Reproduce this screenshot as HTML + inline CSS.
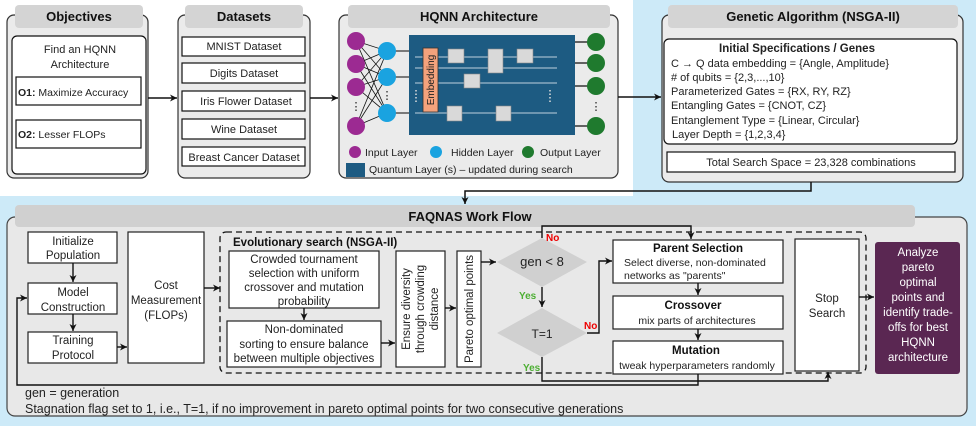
<!DOCTYPE html>
<html><head><meta charset="utf-8"><style>
html,body{margin:0;padding:0;background:#fff}
svg{display:block;font-family:"Liberation Sans",sans-serif}
</style></head><body>
<svg width="976" height="426" viewBox="0 0 976 426" xmlns="http://www.w3.org/2000/svg">
<defs>
<marker id="a" markerWidth="8" markerHeight="8" refX="7" refY="4" orient="auto" markerUnits="userSpaceOnUse"><path d="M0,0.5 L7,4 L0,7.5 L2,4 z" fill="#111"/></marker>
</defs>
<rect x="633" y="0" width="343" height="197" fill="#cdeaf8"/>
<rect x="0" y="196" width="976" height="230" fill="#cdeaf8"/>

<g stroke="#333" stroke-width="1.2">
<rect x="7" y="15" width="141" height="163" rx="7" fill="#ebebeb"/>
<rect x="15" y="5" width="128" height="23" rx="4" fill="#d4d4d4" stroke="none"/>
<rect x="12" y="36" width="134" height="138" rx="5" fill="#fff" stroke="#111"/>
<rect x="16" y="77" width="125" height="28" fill="#fff" stroke="#111"/>
<rect x="16" y="120" width="125" height="28" fill="#fff" stroke="#111"/>
<rect x="178" y="15" width="132" height="163" rx="7" fill="#ebebeb"/>
<rect x="185" y="5" width="118" height="23" rx="4" fill="#d4d4d4" stroke="none"/>
<rect x="182" y="37" width="123" height="19" fill="#fff" stroke="#111"/>
<rect x="182" y="63" width="123" height="20" fill="#fff" stroke="#111"/>
<rect x="182" y="91" width="123" height="20" fill="#fff" stroke="#111"/>
<rect x="182" y="119" width="123" height="20" fill="#fff" stroke="#111"/>
<rect x="182" y="147" width="123" height="19" fill="#fff" stroke="#111"/>
<rect x="339" y="15" width="279" height="163" rx="7" fill="#ebebeb"/>
<rect x="348" y="5" width="262" height="23" rx="4" fill="#d4d4d4" stroke="none"/>
<rect x="662" y="15" width="301" height="167" rx="7" fill="#ebebeb"/>
<rect x="668" y="5" width="290" height="23" rx="4" fill="#d4d4d4" stroke="none"/>
<rect x="664" y="39" width="293" height="105" rx="5" fill="#fff" stroke="#111"/>
<rect x="667" y="152" width="288" height="20" fill="#fff" stroke="#111"/>
</g>

<g stroke="#111" stroke-width="1.5" fill="none">
<line x1="148" y1="98" x2="177" y2="98" marker-end="url(#a)"/>
<line x1="310" y1="98" x2="338" y2="98" marker-end="url(#a)"/>
<line x1="618" y1="97" x2="661" y2="97" marker-end="url(#a)"/>
<polyline points="811,182 811,191 465,191 465,204" marker-end="url(#a)"/>
</g>

<rect x="409" y="35" width="166" height="100" fill="#1d5b82"/>
<g stroke="#111" stroke-width="0.8">
<line x1="356" y1="41" x2="387" y2="51"/><line x1="356" y1="41" x2="387" y2="77"/><line x1="356" y1="41" x2="387" y2="113"/>
<line x1="356" y1="64" x2="387" y2="51"/><line x1="356" y1="64" x2="387" y2="77"/><line x1="356" y1="64" x2="387" y2="113"/>
<line x1="356" y1="87" x2="387" y2="51"/><line x1="356" y1="87" x2="387" y2="77"/><line x1="356" y1="87" x2="387" y2="113"/>
<line x1="356" y1="126" x2="387" y2="51"/><line x1="356" y1="126" x2="387" y2="77"/><line x1="356" y1="126" x2="387" y2="113"/>
<line x1="387" y1="51" x2="409" y2="51" stroke="#555" stroke-width="1.5"/>
<line x1="387" y1="77" x2="409" y2="77" stroke="#555" stroke-width="1.5"/>
<line x1="387" y1="113" x2="409" y2="113" stroke="#555" stroke-width="1.5"/>
<line x1="575" y1="42" x2="596" y2="42" stroke-width="1.2"/>
<line x1="575" y1="63" x2="596" y2="63" stroke-width="1.2"/>
<line x1="575" y1="86" x2="596" y2="86" stroke-width="1.2"/>
<line x1="575" y1="126" x2="596" y2="126" stroke-width="1.2"/>
</g>
<g stroke="#9fb9cc" stroke-width="1.3">
<line x1="415" y1="57" x2="557" y2="57"/><line x1="415" y1="68" x2="557" y2="68"/>
<line x1="415" y1="83" x2="557" y2="83"/><line x1="415" y1="113" x2="557" y2="113"/>
</g>
<rect x="423" y="48" width="15" height="64" fill="#f4a27c" stroke="#333" stroke-width="0.8"/>
<text transform="translate(434,80) rotate(-90)" font-size="10" text-anchor="middle" fill="#222">Embedding</text>
<g fill="#d9d9d9" stroke="#888" stroke-width="0.6">
<rect x="448" y="49" width="16" height="14"/><rect x="488" y="49" width="15" height="24"/>
<rect x="517" y="49" width="16" height="14"/><rect x="464" y="74" width="16" height="14"/>
<rect x="447" y="106" width="15" height="15"/><rect x="496" y="106" width="15" height="15"/>
</g>
<g stroke="#ddd" stroke-width="1.5" stroke-dasharray="1.5,2"><line x1="416" y1="90" x2="416" y2="104"/><line x1="550" y1="90" x2="550" y2="104"/></g>
<g fill="#9c2a92"><circle cx="356" cy="41" r="9"/><circle cx="356" cy="64" r="9"/><circle cx="356" cy="87" r="9"/><circle cx="356" cy="126" r="9"/></g>
<g fill="#1aa3e0"><circle cx="387" cy="51" r="9"/><circle cx="387" cy="77" r="9"/><circle cx="387" cy="113" r="9"/></g>
<g fill="#1f7a2e"><circle cx="596" cy="42" r="9"/><circle cx="596" cy="63" r="9"/><circle cx="596" cy="86" r="9"/><circle cx="596" cy="126" r="9"/></g>
<g font-size="11" fill="#111" text-anchor="middle"><text x="356" y="110">⋮</text><text x="387" y="99">⋮</text><text x="596" y="110">⋮</text></g>
<circle cx="355" cy="152" r="6" fill="#9c2a92"/><circle cx="436" cy="152" r="6" fill="#1aa3e0"/><circle cx="528" cy="152" r="6" fill="#1f7a2e"/>
<rect x="346" y="163" width="19" height="14" fill="#1d5b82"/>
<g font-size="10.5" fill="#222">
<text x="365" y="156">Input Layer</text><text x="451" y="156">Hidden Layer</text><text x="540" y="156">Output Layer</text>
<text x="369" y="173">Quantum Layer (s) – updated during search</text>
</g>

<g font-size="13" font-weight="bold" fill="#111" text-anchor="middle">
<text x="79" y="21">Objectives</text><text x="244" y="21">Datasets</text>
<text x="479" y="21">HQNN Architecture</text><text x="813" y="21">Genetic Algorithm (NSGA-II)</text>
</g>
<g font-size="11" fill="#222" text-anchor="middle">
<text x="80" y="53">Find an HQNN</text><text x="80" y="68">Architecture</text>
<text x="244" y="50">MNIST Dataset</text><text x="244" y="77">Digits Dataset</text>
<text x="246" y="105">Iris Flower Dataset</text><text x="244" y="133">Wine Dataset</text>
<text x="244" y="161">Breast Cancer Dataset</text>
<text x="811" y="166">Total Search Space = 23,328 combinations</text>
</g>
<g font-size="10.5" fill="#222">
<text x="18" y="96"><tspan font-weight="bold">O1:</tspan>   Maximize Accuracy</text>
<text x="18" y="138"><tspan font-weight="bold">O2:</tspan>  Lesser FLOPs</text>
</g>
<text x="797" y="52" font-size="11.5" font-weight="bold" text-anchor="middle" fill="#222">Initial Specifications / Genes</text>
<g font-size="11" fill="#222">
<text x="671" y="67">C → Q data embedding = {Angle, Amplitude}</text>
<text x="671" y="81">#  of qubits = {2,3,...,10}</text>
<text x="671" y="95">Parameterized Gates = {RX, RY, RZ}</text>
<text x="671" y="109">Entangling Gates = {CNOT, CZ}</text>
<text x="671" y="124">Entanglement Type = {Linear, Circular}</text>
<text x="672" y="138">Layer Depth = {1,2,3,4}</text>
</g>

<rect x="7" y="217" width="960" height="199" rx="8" fill="#e8e8e8" stroke="#444" stroke-width="1.2"/>
<rect x="15" y="205" width="900" height="22" rx="4" fill="#d0d0d0"/>
<text x="470" y="221" font-size="13" font-weight="bold" text-anchor="middle" fill="#111">FAQNAS Work Flow</text>
<rect x="220" y="232" width="646" height="141" rx="6" fill="none" stroke="#111" stroke-width="1.3" stroke-dasharray="6,4"/>

<g fill="#fff" stroke="#222" stroke-width="1.2">
<rect x="28" y="232" width="89" height="31"/><rect x="28" y="283" width="89" height="31"/>
<rect x="28" y="332" width="89" height="31"/><rect x="128" y="232" width="76" height="131"/>
<rect x="229" y="251" width="150" height="57"/><rect x="227" y="321" width="154" height="46"/>
<rect x="396" y="251" width="49" height="116"/><rect x="457" y="251" width="24" height="116"/>
<rect x="613" y="240" width="170" height="43"/><rect x="613" y="296" width="170" height="33"/>
<rect x="613" y="341" width="170" height="33"/><rect x="795" y="239" width="64" height="132"/>
</g>
<rect x="875" y="242" width="85" height="132" rx="3" fill="#5a2752"/>
<polygon points="497,262 542,238 587,262 542,287" fill="#d0d0d0"/>
<polygon points="497,333 542,308 587,333 542,357" fill="#d0d0d0"/>

<g stroke="#111" stroke-width="1.4" fill="none">
<line x1="73" y1="263" x2="73" y2="282" marker-end="url(#a)"/>
<line x1="73" y1="314" x2="73" y2="331" marker-end="url(#a)"/>
<line x1="117" y1="347" x2="127" y2="347" marker-end="url(#a)"/>
<line x1="204" y1="288" x2="220" y2="288" marker-end="url(#a)"/>
<line x1="304" y1="308" x2="304" y2="320" marker-end="url(#a)"/>
<line x1="381" y1="343" x2="395" y2="343" marker-end="url(#a)"/>
<line x1="445" y1="308" x2="456" y2="308" marker-end="url(#a)"/>
<line x1="481" y1="262" x2="496" y2="262" marker-end="url(#a)"/>
<polyline points="542,238 542,226 691,226 691,239" marker-end="url(#a)"/>
<line x1="542" y1="287" x2="542" y2="307" marker-end="url(#a)"/>
<polyline points="587,333 599,333 599,261 612,261" marker-end="url(#a)"/>
<line x1="698" y1="283" x2="698" y2="295" marker-end="url(#a)"/>
<line x1="698" y1="329" x2="698" y2="340" marker-end="url(#a)"/>
<polyline points="542,357 542,381 828,381 828,372" marker-end="url(#a)"/>
<polyline points="698,374 698,385 17,385 17,298 27,298" marker-end="url(#a)"/>
<line x1="859" y1="297" x2="874" y2="297" marker-end="url(#a)"/>
</g>

<g font-size="11.5" fill="#222" text-anchor="middle">
<text x="73" y="245">Initialize</text><text x="73" y="259">Population</text>
<text x="73" y="296">Model</text><text x="73" y="311">Construction</text>
<text x="73" y="344">Training</text><text x="73" y="359">Protocol</text>
<text x="166" y="289">Cost</text><text x="166" y="304">Measurement</text><text x="166" y="319">(FLOPs)</text>
<text x="304" y="263">Crowded tournament</text><text x="304" y="277">selection with uniform</text>
<text x="304" y="291">crossover and mutation</text><text x="304" y="305">probability</text>
<text x="304" y="333">Non-dominated</text><text x="304" y="348">sorting to ensure balance</text>
<text x="304" y="362">between multiple objectives</text>
<text transform="translate(410,309) rotate(-90)">Ensure diversity</text>
<text transform="translate(424,309) rotate(-90)">through crowding</text>
<text transform="translate(438,309) rotate(-90)">distance</text>
<text transform="translate(473,309) rotate(-90)">Pareto optimal points</text>
<text x="542" y="266" font-size="13">gen &lt; 8</text>
<text x="542" y="338" font-size="12">T=1</text>
<text x="827" y="302">Stop</text><text x="827" y="317">Search</text>
<text x="697" y="324" font-size="10.5">mix parts of architectures</text>
<text x="697" y="369" font-size="10.5">tweak hyperparameters randomly</text>
</g>
<g font-size="11.5" font-weight="bold" fill="#111" text-anchor="middle">
<text x="698" y="252">Parent Selection</text><text x="693" y="309">Crossover</text><text x="696" y="354">Mutation</text>
</g>
<g font-size="10.5" fill="#222"><text x="624" y="266">Select diverse, non-dominated</text><text x="624" y="279">networks as "parents"</text></g>
<text x="233" y="246" font-size="11.5" font-weight="bold" fill="#111">Evolutionary search (NSGA-II)</text>
<g font-size="10" font-weight="bold">
<text x="546" y="241" fill="#e00">No</text><text x="584" y="329" fill="#e00">No</text>
<text x="519" y="299" fill="#4caf32">Yes</text><text x="523" y="371" fill="#4caf32">Yes</text>
</g>
<g font-size="11.5" fill="#fff" text-anchor="middle">
<text x="918" y="256">Analyze</text><text x="918" y="271">pareto</text><text x="918" y="286">optimal</text>
<text x="918" y="301">points and</text><text x="918" y="316">identify trade-</text><text x="918" y="331">offs for best</text>
<text x="918" y="346">HQNN</text><text x="918" y="361">architecture</text>
</g>
<g font-size="12.5" fill="#222">
<text x="25" y="397">gen = generation</text>
<text x="25" y="413">Stagnation flag set to 1, i.e., T=1, if no improvement in pareto optimal points for two consecutive generations</text>
</g>
</svg>
</body></html>
